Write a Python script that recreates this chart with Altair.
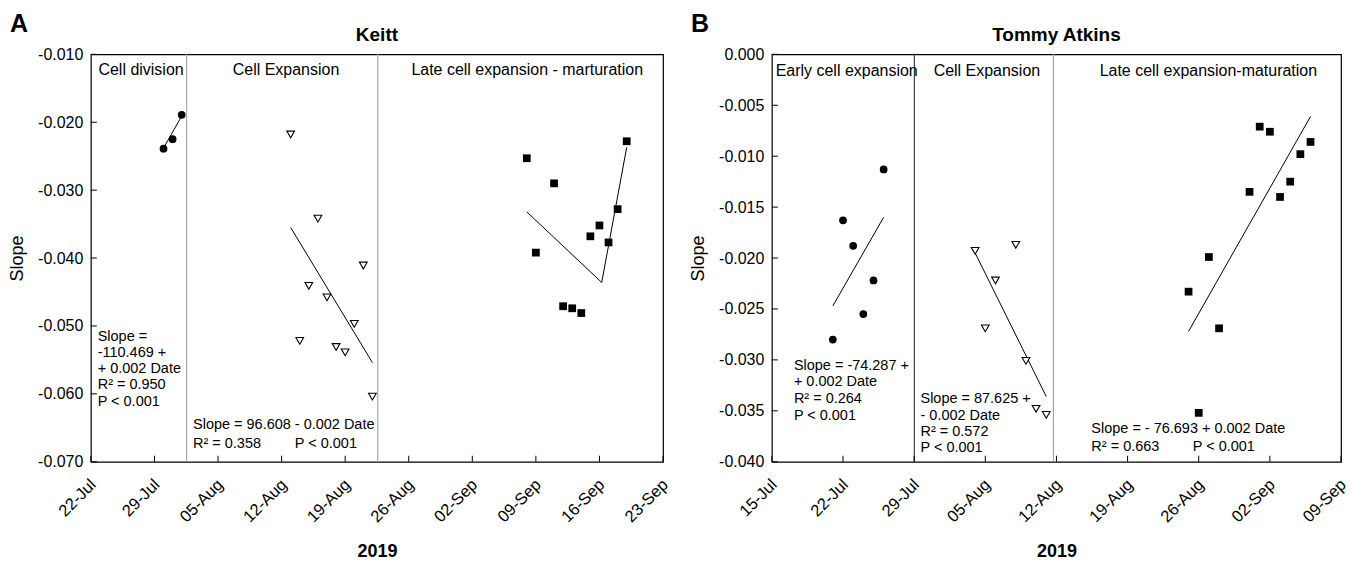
import altair as alt
import pandas as pd

FONT = "Liberation Sans"

# ---------------- Panel A : Keitt ----------------
a_x_domain = ["2019-07-22", "2019-09-23"]
a_x_ticks = ["2019-07-22", "2019-07-29", "2019-08-05", "2019-08-12", "2019-08-19",
             "2019-08-26", "2019-09-02", "2019-09-09", "2019-09-16", "2019-09-23"]
a_y_domain = [-0.070, -0.010]
a_y_ticks = [-0.070, -0.060, -0.050, -0.040, -0.030, -0.020, -0.010]

a_div_dates = ["2019-07-30", "2019-07-31", "2019-08-01"]
a_div_vals = [-0.0239, -0.0225, -0.0189]
a_exp_dates = ["2019-08-13", "2019-08-14", "2019-08-15", "2019-08-16", "2019-08-17",
               "2019-08-18", "2019-08-19", "2019-08-20", "2019-08-21", "2019-08-22"]
a_exp_vals = [-0.0218, -0.0522, -0.0441, -0.0342, -0.0458,
              -0.0531, -0.0539, -0.0497, -0.0411, -0.0604]
a_late_dates = ["2019-09-08", "2019-09-09", "2019-09-11", "2019-09-12", "2019-09-13",
                "2019-09-14", "2019-09-15", "2019-09-16", "2019-09-17", "2019-09-18", "2019-09-19"]
a_late_vals = [-0.0253, -0.0392, -0.0290, -0.0471, -0.0474,
               -0.0481, -0.0368, -0.0352, -0.0377, -0.0328, -0.0228]

a_fit1_dates = ["2019-07-30", "2019-08-01"]
a_fit1_vals = [-0.0238, -0.0191]
a_fit2_dates = ["2019-08-13", "2019-08-22"]
a_fit2_vals = [-0.0355, -0.0554]
a_fit3_dates = ["2019-09-08", "2019-09-16T06:00", "2019-09-19"]
a_fit3_vals = [-0.0332, -0.0436, -0.0237]

a_sep_dates = ["2019-08-01T13:00", "2019-08-22T14:00"]
a_sep_colors = ["#a8a8a8", "#a8a8a8"]

a_head_labels = ["Cell division", "Cell Expansion", "Late cell expansion - marturation"]
a_head_dates = ["2019-07-22T20:00", "2019-08-06T15:00", "2019-08-26T07:00"]
a_head_vals = [-0.0131, -0.0131, -0.0130]

a_note_labels = ["Slope =\n-110.469 +\n+ 0.002 Date\nR² = 0.950\nP < 0.001",
                 "Slope = 96.608 - 0.002 Date",
                 "R² = 0.358",
                 "P < 0.001"]
a_note_dates = ["2019-07-22T18:00", "2019-08-02T06:00", "2019-08-02T06:00", "2019-08-13T11:00"]
a_note_vals = [-0.05217, -0.06518, -0.06793, -0.06793]
a_note_lh = [16.3, 16.3, 16.3, 16.3]

# ---------------- Panel B : Tommy Atkins ----------------
b_x_domain = ["2019-07-15", "2019-09-09"]
b_x_ticks = ["2019-07-15", "2019-07-22", "2019-07-29", "2019-08-05", "2019-08-12",
             "2019-08-19", "2019-08-26", "2019-09-02", "2019-09-09"]
b_y_domain = [-0.040, 0.0]
b_y_ticks = [-0.040, -0.035, -0.030, -0.025, -0.020, -0.015, -0.010, -0.005, 0.0]

b_early_dates = ["2019-07-21", "2019-07-22", "2019-07-23", "2019-07-24", "2019-07-25", "2019-07-26"]
b_early_vals = [-0.0280, -0.0163, -0.0188, -0.0255, -0.0222, -0.0113]
b_exp_dates = ["2019-08-04", "2019-08-05", "2019-08-06", "2019-08-08",
               "2019-08-09", "2019-08-10", "2019-08-11"]
b_exp_vals = [-0.0193, -0.0269, -0.0222, -0.0187, -0.0301, -0.0348, -0.0354]
b_late_dates = ["2019-08-25", "2019-08-26", "2019-08-27", "2019-08-28", "2019-08-31",
                "2019-09-01", "2019-09-02", "2019-09-03", "2019-09-04", "2019-09-05", "2019-09-06"]
b_late_vals = [-0.0233, -0.0352, -0.0199, -0.0269, -0.0135,
               -0.0071, -0.0076, -0.0140, -0.0125, -0.0098, -0.0086]

b_fit1_dates = ["2019-07-21", "2019-07-26"]
b_fit1_vals = [-0.0247, -0.0160]
b_fit2_dates = ["2019-08-04", "2019-08-11"]
b_fit2_vals = [-0.0195, -0.0336]
b_fit3_dates = ["2019-08-25", "2019-09-06"]
b_fit3_vals = [-0.0272, -0.0061]

b_sep_dates = ["2019-07-29T00:30", "2019-08-11T17:00"]
b_sep_colors = ["#404040", "#a8a8a8"]

b_head_labels = ["Early cell expansion", "Cell Expansion", "Late cell expansion-maturation"]
b_head_dates = ["2019-07-15T09:00", "2019-07-30T22:00", "2019-08-16T06:00"]
b_head_vals = [-0.00209, -0.00209, -0.00212]

b_note_labels = ["Slope = -74.287 +\n+ 0.002 Date\nR² = 0.264\nP < 0.001",
                 "Slope = 87.625 +\n- 0.002 Date\nR² = 0.572\nP < 0.001",
                 "Slope = - 76.693 + 0.002 Date",
                 "R² = 0.663",
                 "P < 0.001"]
b_note_dates = ["2019-07-17T04:00", "2019-07-29T15:00", "2019-08-15T10:30",
                "2019-08-15T10:30", "2019-08-25T10:00"]
b_note_vals = [-0.03095, -0.03426, -0.03722, -0.03899, -0.03899]
b_note_lh = [16.7, 16.4, 16.3, 16.3, 16.3]


def to_dt(lst):
    return pd.to_datetime(lst, format="ISO8601")


def DT(s):
    t = pd.Timestamp(s)
    return alt.DateTime(year=int(t.year), month=int(t.month), date=int(t.day),
                        hours=int(t.hour), minutes=int(t.minute))


def panel(P, W, H):
    x_axis = alt.Axis(values=[DT(s) for s in P["x_ticks"]], format="%d-%b",
                      labelAngle=-45, labelAlign="right", labelBaseline="middle",
                      labelPadding=20, labelOffset=2, labelFontSize=16.5, labelColor="black",
                      labelFlush=False, labelOverlap=False, labelBound=False,
                      ticks=False, tickSize=0, domain=False, grid=False,
                      title="2019", titleFontSize=18, titleFontWeight="bold", titleColor="black",
                      titleY=95, titleBaseline="alphabetic", titleAlign="center")
    y_axis = alt.Axis(values=P["y_ticks"],
                      labelExpr="datum.value < -0.000001 ? '-' + format(-datum.value, '.3f') : format(0, '.3f')",
                      labelFontSize=16, labelColor="black", labelPadding=8,
                      labelOverlap=False, labelFlush=False,
                      ticks=False, tickSize=0, domain=False, grid=False,
                      title="Slope", titleFontSize=18, titleFontWeight="normal", titleColor="black",
                      titleX=-73, titleY=H / 2, titleAngle=270, titleBaseline="middle", titleAlign="center")
    x_enc = alt.X("date:T", scale=alt.Scale(domain=[DT(s) for s in P["x_domain"]]), axis=x_axis)
    y_enc = alt.Y("value:Q", scale=alt.Scale(domain=P["y_domain"], nice=False, zero=False), axis=y_axis)

    def dv(dates, vals):
        return pd.DataFrame({"date": to_dt(dates), "value": vals})

    layers = []
    seps = pd.DataFrame({"date": to_dt(P["sep_dates"]), "color": P["sep_colors"]})
    layers.append(alt.Chart(seps).mark_rule(strokeWidth=1.2).encode(
        x=x_enc, color=alt.Color("color:N", scale=None)))
    xt = pd.DataFrame({"date": to_dt(P["x_ticks"])})
    layers.append(alt.Chart(xt).mark_rule(color="black", strokeWidth=1).encode(
        x=x_enc, y=alt.value(H), y2=alt.value(H - 6)))
    yt = pd.DataFrame({"value": P["y_ticks"]})
    layers.append(alt.Chart(yt).mark_rule(color="black", strokeWidth=1).encode(
        y=y_enc, x=alt.value(0), x2=alt.value(6)))
    for d, v in P["fits"]:
        layers.append(alt.Chart(dv(d, v)).mark_line(color="black", strokeWidth=1).encode(
            x=x_enc, y=y_enc))
    layers.append(alt.Chart(dv(*P["circles"])).mark_point(
        shape="circle", filled=True, color="black", size=60, opacity=1).encode(x=x_enc, y=y_enc))
    layers.append(alt.Chart(dv(*P["triangles"])).mark_point(
        shape="triangle-down", filled=True, fill="white", stroke="black", strokeWidth=1.1,
        size=60, opacity=1).encode(x=x_enc, y=y_enc))
    layers.append(alt.Chart(dv(*P["squares"])).mark_point(
        shape="square", filled=True, color="black", size=60, opacity=1).encode(x=x_enc, y=y_enc))
    heads = pd.DataFrame({"date": to_dt(P["head_dates"]), "value": P["head_vals"],
                          "label": P["head_labels"]})
    layers.append(alt.Chart(heads).mark_text(align="left", baseline="alphabetic", fontSize=16,
                                             color="black").encode(x=x_enc, y=y_enc, text="label:N"))
    for lab, d, v, lh in zip(P["note_labels"], P["note_dates"], P["note_vals"], P["note_lh"]):
        nd = pd.DataFrame({"date": to_dt([d]), "value": [v], "label": [lab]})
        layers.append(alt.Chart(nd).mark_text(align="left", baseline="alphabetic", fontSize=14.5,
                                              color="black", lineBreak="\n", lineHeight=lh).encode(
            x=x_enc, y=y_enc, text="label:N"))
    tdf = pd.DataFrame({"label": [P["title"]]})
    layers.append(alt.Chart(tdf).mark_text(align="center", baseline="alphabetic", fontSize=19,
                                           fontWeight="bold", color="black").encode(
        x=alt.value(W / 2), y=alt.value(-13), text="label:N"))
    ldf = pd.DataFrame({"label": [P["letter"]]})
    layers.append(alt.Chart(ldf).mark_text(align="left", baseline="top", fontSize=25,
                                           fontWeight="bold", color="black").encode(
        x=alt.value(-81), y=alt.value(-42), text="label:N"))
    return alt.layer(*layers).properties(width=W, height=H)


PA = dict(x_domain=a_x_domain, x_ticks=a_x_ticks, y_domain=a_y_domain, y_ticks=a_y_ticks,
          fits=[(a_fit1_dates, a_fit1_vals), (a_fit2_dates, a_fit2_vals), (a_fit3_dates, a_fit3_vals)],
          circles=(a_div_dates, a_div_vals), triangles=(a_exp_dates, a_exp_vals),
          squares=(a_late_dates, a_late_vals),
          sep_dates=a_sep_dates, sep_colors=a_sep_colors,
          head_labels=a_head_labels, head_dates=a_head_dates, head_vals=a_head_vals,
          note_labels=a_note_labels, note_dates=a_note_dates, note_vals=a_note_vals, note_lh=a_note_lh,
          title="Keitt", letter="A")
PB = dict(x_domain=b_x_domain, x_ticks=b_x_ticks, y_domain=b_y_domain, y_ticks=b_y_ticks,
          fits=[(b_fit1_dates, b_fit1_vals), (b_fit2_dates, b_fit2_vals), (b_fit3_dates, b_fit3_vals)],
          circles=(b_early_dates, b_early_vals), triangles=(b_exp_dates, b_exp_vals),
          squares=(b_late_dates, b_late_vals),
          sep_dates=b_sep_dates, sep_colors=b_sep_colors,
          head_labels=b_head_labels, head_dates=b_head_dates, head_vals=b_head_vals,
          note_labels=b_note_labels, note_dates=b_note_dates, note_vals=b_note_vals, note_lh=b_note_lh,
          title="Tommy Atkins", letter="B")

chart = alt.hconcat(panel(PA, 573, 408), panel(PB, 570, 408),
                    spacing=109, bounds="flush",
                    padding={"top": 3, "left": 0, "right": 0, "bottom": 0}).configure(
    font=FONT).configure_view(stroke="black", strokeWidth=1.2)

chart.save("out.html", embed_options={"renderer": "svg", "actions": False})
